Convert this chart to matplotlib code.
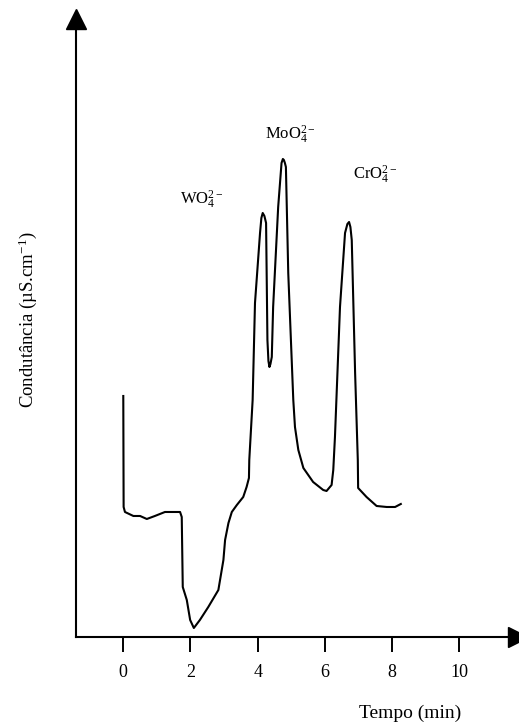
import numpy as np
import matplotlib as mpl
mpl.use("Agg")
import matplotlib.pyplot as plt

# 1. Fonts (Times-like serif, as in the scanned figure)
mpl.rc('font', family='Liberation Serif')
mpl.rc('mathtext', fontset='custom', rm='Liberation Serif',
       it='Liberation Serif:italic', bf='Liberation Serif:bold')

# 2. Data (time in min, conductance in arbitrary units)
tempo = [0.0, 0.01, 0.05, 0.30, 0.50, 0.70, 0.94, 1.24, 1.69, 1.74,
         1.77, 1.89, 1.99, 2.10, 2.28, 2.53, 2.83, 2.98, 3.03, 3.13,
         3.23, 3.38, 3.57, 3.67, 3.74, 3.75, 3.85, 3.92, 4.07, 4.11,
         4.15, 4.20, 4.25, 4.29, 4.32, 4.35, 4.38, 4.42, 4.46, 4.61,
         4.71, 4.75, 4.78, 4.81, 4.84, 4.91, 5.06, 5.11, 5.21, 5.36,
         5.65, 5.95, 6.05, 6.20, 6.25, 6.30, 6.45, 6.60, 6.67, 6.72,
         6.76, 6.80, 6.90, 6.98, 6.99, 7.24, 7.54, 7.84, 8.09, 8.26]
condutancia = [24.1, 13.0, 12.5, 12.1, 12.1, 11.8, 12.1, 12.5, 12.5, 12.0,
               5.0, 3.7, 1.7, 0.9, 1.7, 3.0, 4.7, 7.7, 9.7, 11.4,
               12.5, 13.2, 14.0, 15.0, 15.9, 17.7, 23.7, 33.4, 40.4, 41.9,
               42.4, 42.1, 41.4, 29.7, 27.6, 27.0, 27.3, 28.0, 33.0, 43.0,
               47.4, 47.8, 47.7, 47.4, 47.0, 36.4, 23.7, 21.0, 18.7, 16.9,
               15.5, 14.7, 14.6, 15.2, 16.7, 20.0, 33.0, 40.4, 41.3, 41.5,
               41.0, 39.7, 26.4, 17.7, 14.9, 14.0, 13.1, 13.0, 13.0, 13.3]

xticks = [0, 2, 4, 6, 8, 10]
especies = ['WO$_4^{2-}$', 'MoO$_4^{2-}$', 'CrO$_4^{2-}$']
especies_t = [1.69, 4.21, 6.84]
especies_y = [43.7, 50.2, 46.2]

# 3. Figure
fig = plt.figure(figsize=(5.19, 7.25), dpi=100)
ax = fig.add_axes([0.1464, 0.1214, 0.8516, 0.8524])

ax.plot(tempo, condutancia, color='black', lw=1.5, solid_joinstyle='round')

for lab, t, y in zip(especies, especies_t, especies_y):
    ax.text(t, y, lab, fontsize=12, ha='left', va='center')

ax.set_xlim(-1.408, 11.747)
ax.set_ylim(0, 61.8)

# axes with arrow heads
for s in ['top', 'right']:
    ax.spines[s].set_visible(False)
for s in ['left', 'bottom']:
    ax.spines[s].set_linewidth(1.5)
ax.plot(1, 0, '>k', ms=15, transform=ax.transAxes, clip_on=False)
ax.plot(0, 1, '^k', ms=15, transform=ax.transAxes, clip_on=False)

ax.set_xticks(xticks)
ax.set_xticklabels([str(v) for v in xticks])
ax.set_yticks([])
ax.tick_params(axis='x', direction='out', length=11, width=1.4,
               pad=8.5, labelsize=13)

fig.text(0.054, 0.5586, 'Condutância (µS.cm$^{-1}$)', rotation=90,
         ha='center', va='center', fontsize=13.5)
fig.text(0.79, 0.0166, 'Tempo (min)', ha='center', va='center', fontsize=14)

fig.savefig('out.png', dpi=100)
